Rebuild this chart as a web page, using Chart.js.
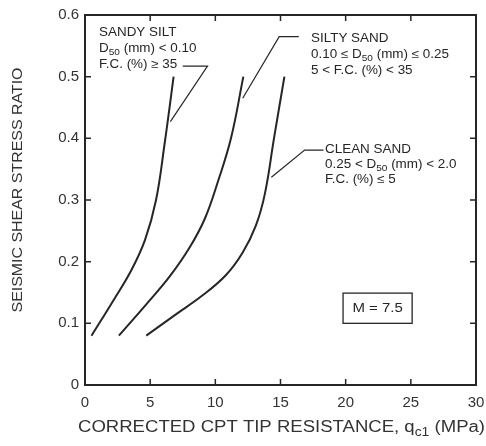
<!DOCTYPE html>
<html>
<head>
<meta charset="utf-8">
<script src="https://cdn.jsdelivr.net/npm/chart.js@4.4.1/dist/chart.umd.min.js"></script>
<style>
  html, body { margin: 0; padding: 0; background: #fff; }
  #wrap { width: 486px; height: 446px; }
</style>
</head>
<body>
<div id="wrap"><canvas id="grafico"></canvas></div>
<script>
// curvas (qc1 em MPa, razao de tensao ciclica)
const sandySiltQc  = [0.5, 2.2, 3.5, 4.6, 5.45, 6.1, 6.8];
const sandySiltCsr = [0.08, 0.138, 0.184, 0.235, 0.30, 0.39, 0.50];

const siltySandQc  = [2.6, 4.75, 6.5, 8.0, 9.2, 10.2, 11.2, 12.15];
const siltySandCsr = [0.08, 0.132, 0.176, 0.222, 0.27, 0.33, 0.40, 0.50];

const cleanSandQc  = [4.7, 7.0, 9.0, 10.8, 12.1, 13.1, 13.8, 14.5, 15.3];
const cleanSandCsr = [0.08, 0.115, 0.145, 0.178, 0.215, 0.258, 0.31, 0.40, 0.50];

const xTicks = [0, 5, 10, 15, 20, 25, 30];
const yTicks = [0, 0.1, 0.2, 0.3, 0.4, 0.5, 0.6];

// linhas de chamada dos rotulos (coordenadas dos dados)
const leaderSandySilt = [[7.5, 0.517], [9.4, 0.517], [6.55, 0.427]];
const leaderSiltySand = [[16.4, 0.565], [14.9, 0.565], [12.1, 0.465]];
const leaderCleanSand = [[18.3, 0.381], [16.85, 0.381], [14.3, 0.337]];

function pontos(xs, ys) {
    return xs.map((x, i) => ({ x: x, y: ys[i] }));
}

const corLinha = '#262626';
const fonte = '"Liberation Sans", Arial, sans-serif';

function larguraRica(ctx, partes, size) {
    let w = 0;
    partes.forEach(p => {
        ctx.font = (p[1] ? Math.round(size * 0.75) : size) + 'px ' + fonte;
        w += ctx.measureText(p[0]).width;
    });
    return w;
}

// texto com subscritos, esticado na horizontal por k
function textoRico(ctx, partes, x, y, size, k) {
    ctx.save();
    ctx.translate(x, y);
    ctx.scale(k || 1, 1);
    let cx = 0;
    partes.forEach(p => {
        if (p[1]) {
            ctx.font = Math.round(size * 0.75) + 'px ' + fonte;
            ctx.fillText(p[0], cx, size * 0.3);
        } else {
            ctx.font = size + 'px ' + fonte;
            ctx.fillText(p[0], cx, 0);
        }
        cx += ctx.measureText(p[0]).width;
    });
    ctx.restore();
}

const desenhoExtra = {
    id: 'desenhoExtra',
    afterDraw(chart) {
        const ctx = chart.ctx;
        const xs = chart.scales.x, ys = chart.scales.y;
        const a = chart.chartArea;
        ctx.save();
        ctx.strokeStyle = corLinha;
        ctx.fillStyle = corLinha;

        // moldura
        ctx.lineWidth = 2;
        ctx.strokeRect(a.left, a.top, a.right - a.left, a.bottom - a.top);

        // marcas para dentro
        ctx.lineWidth = 1.5;
        xTicks.slice(1, -1).forEach(v => {
            const px = xs.getPixelForValue(v);
            ctx.beginPath();
            ctx.moveTo(px, a.bottom); ctx.lineTo(px, a.bottom - 6);
            ctx.moveTo(px, a.top); ctx.lineTo(px, a.top + 6);
            ctx.stroke();
        });
        yTicks.slice(1, -1).forEach(v => {
            const py = ys.getPixelForValue(v);
            ctx.beginPath();
            ctx.moveTo(a.left, py); ctx.lineTo(a.left + 6, py);
            ctx.moveTo(a.right, py); ctx.lineTo(a.right - 6, py);
            ctx.stroke();
        });

        // chamadas
        ctx.lineWidth = 1.2;
        [leaderSandySilt, leaderSiltySand, leaderCleanSand].forEach(l => {
            ctx.beginPath();
            l.forEach((p, i) => {
                const px = xs.getPixelForValue(p[0]), py = ys.getPixelForValue(p[1]);
                if (i === 0) ctx.moveTo(px, py); else ctx.lineTo(px, py);
            });
            ctx.stroke();
        });

        // textos dos rotulos
        ctx.textBaseline = 'middle';
        ctx.textAlign = 'left';
        const s = 12, k = 1.12;
        textoRico(ctx, [['SANDY SILT']], 99, 33, s, k);
        textoRico(ctx, [['D'], ['50', true], [' (mm) < 0.10']], 99, 49, s, k);
        textoRico(ctx, [['F.C. (%) ≥ 35']], 99, 65, s, k);

        textoRico(ctx, [['SILTY SAND']], 311, 39, s, k);
        textoRico(ctx, [['0.10 ≤ D'], ['50', true], [' (mm) ≤ 0.25']], 311, 55, s, k);
        textoRico(ctx, [['5 < F.C. (%) < 35']], 311, 71, s, k);

        textoRico(ctx, [['CLEAN SAND']], 325, 150, s, k);
        textoRico(ctx, [['0.25 < D'], ['50', true], [' (mm) < 2.0']], 325, 165, s, k);
        textoRico(ctx, [['F.C. (%) ≤ 5']], 325, 180, s, k);

        // caixa M = 7.5
        const bx0 = xs.getPixelForValue(19.8), bx1 = xs.getPixelForValue(25.1);
        const by0 = ys.getPixelForValue(0.149), by1 = ys.getPixelForValue(0.10);
        ctx.lineWidth = 1.3;
        ctx.strokeRect(bx0, by0, bx1 - bx0, by1 - by0);
        const wm = larguraRica(ctx, [['M = 7.5']], 12) * 1.25;
        textoRico(ctx, [['M = 7.5']], (bx0 + bx1) / 2 - wm / 2, (by0 + by1) / 2, 12, 1.25);

        // titulos dos eixos
        ctx.fillStyle = '#333';
        const partesX = [['CORRECTED CPT TIP RESISTANCE, q'], ['c1', true], [' (MPa)']];
        const kx = 407 / larguraRica(ctx, partesX, 16);
        textoRico(ctx, partesX, 78, 428, 16, kx);

        ctx.translate(18, 190);
        ctx.rotate(-Math.PI / 2);
        const tituloY = [['SEISMIC SHEAR STRESS RATIO']];
        const ky = 245 / larguraRica(ctx, tituloY, 15);
        textoRico(ctx, tituloY, -122.5, 0, 15, ky);
        ctx.restore();
    }
};

const estiloCurva = {
    borderColor: corLinha,
    borderWidth: 2,
    pointRadius: 0,
    showLine: true,
    fill: false,
    tension: 0.4
};

new Chart(document.getElementById('grafico'), {
    type: 'scatter',
    data: {
        datasets: [
            Object.assign({ label: 'Sandy silt', data: pontos(sandySiltQc, sandySiltCsr) }, estiloCurva),
            Object.assign({ label: 'Silty sand', data: pontos(siltySandQc, siltySandCsr) }, estiloCurva),
            Object.assign({ label: 'Clean sand', data: pontos(cleanSandQc, cleanSandCsr) }, estiloCurva)
        ]
    },
    options: {
        responsive: true,
        maintainAspectRatio: false,
        animation: false,
        layout: { padding: { top: 15, right: 10, left: 0, bottom: 0 } },
        plugins: {
            legend: { display: false },
            tooltip: { enabled: false }
        },
        scales: {
            x: {
                type: 'linear',
                min: 0,
                max: 30,
                afterBuildTicks: s => { s.ticks = xTicks.map(v => ({ value: v })); },
                afterFit: s => { s.height = 61; s.paddingLeft = 0; s.paddingRight = 0; },
                grid: { display: false, drawTicks: false },
                border: { display: false },
                ticks: {
                    padding: 9,
                    color: '#333',
                    font: { family: fonte, size: 15 },
                    maxRotation: 0
                }
            },
            y: {
                type: 'linear',
                min: 0,
                max: 0.6,
                afterBuildTicks: s => { s.ticks = yTicks.map(v => ({ value: v })); },
                afterFit: s => { s.width = 85; s.paddingTop = 0; s.paddingBottom = 0; },
                grid: { display: false, drawTicks: false },
                border: { display: false },
                ticks: {
                    padding: 6,
                    color: '#333',
                    font: { family: fonte, size: 15 },
                    callback: v => (v === 0 ? '0' : v.toFixed(1))
                }
            }
        }
    },
    plugins: [desenhoExtra]
});
</script>
</body>
</html>
